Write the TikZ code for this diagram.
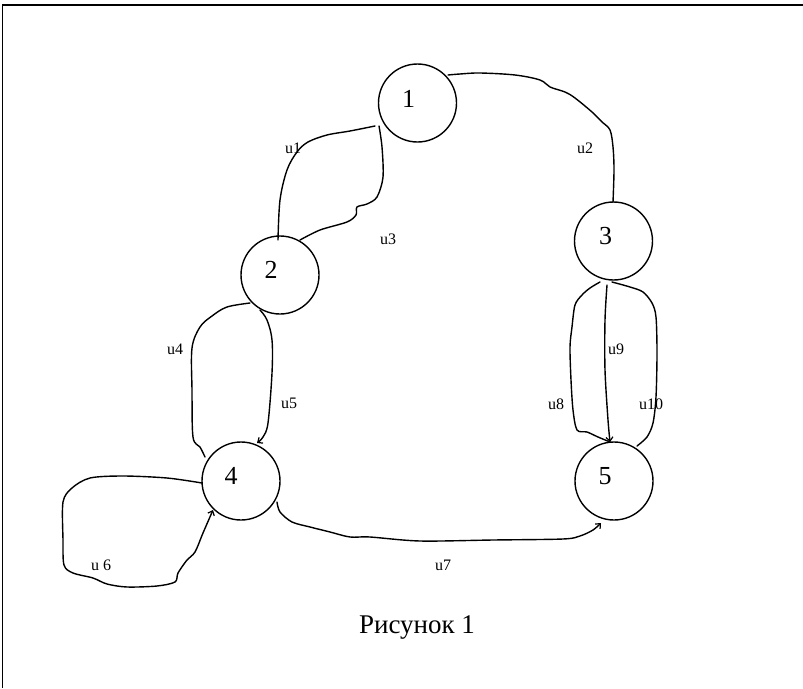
\documentclass[tikz,border=0pt]{standalone}
\usepackage{fontspec}
\setmainfont{Liberation Serif}
\usetikzlibrary{arrows.meta}
\begin{document}
\begin{tikzpicture}[x=1pt,y=-1pt,
  vert/.style={circle,draw,line width=1.4pt,minimum size=78pt,inner sep=0pt},
  edge/.style={line width=1.4pt,line cap=round},
  tip/.style={-{Straight Barb[length=4pt,width=7pt,line width=1.2pt]}},
  lab/.style={font=\fontsize{16}{18}\selectfont,inner sep=0pt},
  num/.style={font=\fontsize{26}{28}\selectfont,inner sep=0pt}]
\useasboundingbox (0,0) rectangle (803,688);
% frame
\draw[line width=1.8pt] (2.5,688) -- (2.5,4.8) -- (803,4.8);
% vertices
\node[vert,label={[num,xshift=-9pt,yshift=4pt]center:1}] (n1) at (417.5,103) {};
\node[vert,label={[num,xshift=-9pt,yshift=5pt]center:2}] (n2) at (280,275) {};
\node[vert,label={[num,xshift=-8pt,yshift=4.5pt]center:3}] (n3) at (613.5,241) {};
\node[vert,label={[num,xshift=-10pt,yshift=5pt]center:4}] (n4) at (241,481) {};
\node[vert,label={[num,xshift=-9pt,yshift=5pt]center:5}] (n5) at (614,481) {};
% u1
\draw[edge] plot[smooth,tension=0.55] coordinates {(375,126) (350,131) (327,135) (308,142) (297,152) (287,170) (280,200) (278,240)};
% u3
\draw[edge] plot[smooth,tension=0.5] coordinates {(379,126) (382,147) (383,177) (377,197) (367,204) (357,207) (356,215) (347,222) (320,230) (300,240)};
% u2
\draw[edge] plot[smooth,tension=0.55] coordinates {(448,75) (460,74) (480,73) (515,75) (540,80) (550,87) (565,92) (575,98) (592,112) (602,122) (610,130) (613,147) (614,170) (613,202)};
% u4
\draw[edge] plot[smooth,tension=0.55] coordinates {(250,303) (227,307) (212,316) (200,327) (192,348) (192,390) (193,437) (200,447) (205,457)};
% u5
\draw[edge,tip] plot[smooth,tension=0.55] coordinates {(260,310) (267,320) (272,340) (272,373) (268,423) (263,437) (257,443)};
% u6
\draw[edge,tip] plot[smooth,tension=0.5] coordinates {(202,483) (167,478) (123,476) (90,478) (72,488) (63,502) (63,540) (64,565) (73,573) (93,578) (107,584) (127,587) (157,586) (175,582) (178,573) (187,560) (195,552) (203,533) (213,510)};
% u7
\draw[edge,tip] plot[smooth,tension=0.5] coordinates {(277,502) (280,512) (292,522) (310,527) (330,532) (350,537) (370,537) (420,541) (493,540) (563,539) (580,536) (593,530) (601,523)};
% u8
\draw[edge] plot[smooth,tension=0.5] coordinates {(600,282) (590,288) (582,295) (575,305) (572,327) (570,347) (571,380) (573,410) (577,430) (587,432) (598,437) (610,442)};
% u9
\draw[edge,tip] plot[smooth,tension=0.5] coordinates {(607,285) (605,320) (605,370) (608,420) (610,442)};
% u10
\draw[edge] plot[smooth,tension=0.5] coordinates {(612,282) (630,287) (643,292) (652,303) (656,317) (657,353) (656,397) (653,423) (647,437) (637,446)};
% labels
\node[lab] (l1) at (293,148) {u1};
\node[lab] (l2) at (585,148) {u2};
\node[lab] (l3) at (388,239) {u3};
\node[lab] (l4) at (175,349) {u4};
\node[lab] (l5) at (289,403) {u5};
\node[lab] (l6) at (101,565) {u 6};
\node[lab] (l7) at (443,565) {u7};
\node[lab] (l8) at (556,404) {u8};
\node[lab] (l9) at (616,349) {u9};
\node[lab] (l10) at (651,404) {u10};
\node[font=\fontsize{27}{30}\selectfont,anchor=base,inner sep=0pt] (cap) at (417,633) {Рисунок 1};
\end{tikzpicture}
\end{document}
